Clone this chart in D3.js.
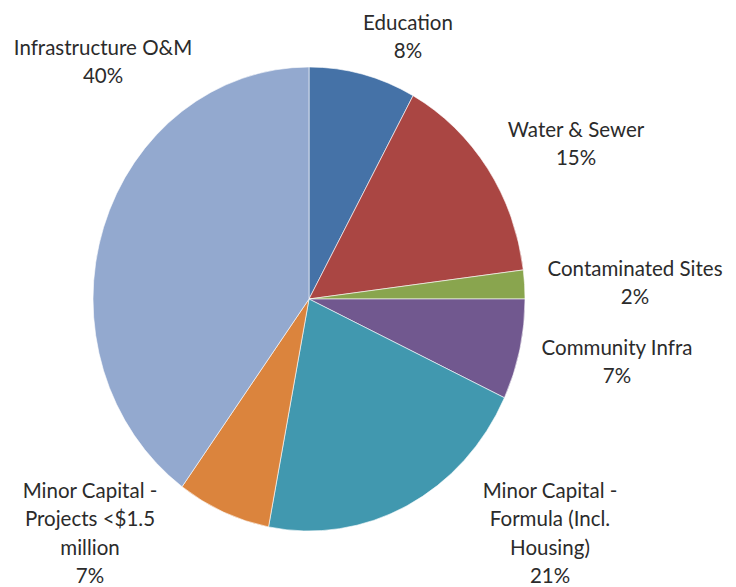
<!DOCTYPE html>
<html>
<head>
<meta charset="utf-8">
<script src="https://cdn.jsdelivr.net/npm/d3@7"></script>
<style>
  html, body { margin: 0; padding: 0; background: #fff; }
  svg text { font-family: "Lato", "Open Sans", sans-serif; fill: #2b2b2b; }
</style>
</head>
<body>
<svg id="chart" width="736" height="587"></svg>
<script>
// Spending shares by program area (percent of total)
const categories = [
  "Education",
  "Water & Sewer",
  "Contaminated Sites",
  "Community Infra",
  "Minor Capital - Formula (Incl. Housing)",
  "Minor Capital - Projects <$1.5 million",
  "Infrastructure O&M"
];
const values = [8, 15, 2, 7, 21, 7, 40];

// Label text, broken into lines as displayed
const labelLines = [
  ["Education"],
  ["Water & Sewer"],
  ["Contaminated Sites"],
  ["Community Infra"],
  ["Minor Capital -", "Formula (Incl.", "Housing)"],
  ["Minor Capital -", "Projects <$1.5", "million"],
  ["Infrastructure O&M"]
];

const colors = ["#4572A7", "#AA4643", "#89A54E", "#71588F", "#4198AF", "#DB843D", "#93A9CF"];

// Label anchor points (centre x, first baseline y)
const labelPos = [
  [408, 30], [576, 137], [635, 276], [617, 355],
  [550, 498], [90, 498], [103, 55]
];

const svg = d3.select("#chart");
const cx = 309, cy = 299, rx = 216, ry = 232;

const slices = d3.pie().sort(null).value(d => d)(values);
const arc = d3.arc().innerRadius(0).outerRadius(rx);

svg.append("g")
  .attr("transform", `translate(${cx},${cy}) scale(1,${ry / rx})`)
  .selectAll("path")
  .data(slices)
  .join("path")
  .attr("d", arc)
  .attr("fill", (d, i) => colors[i])
  .attr("stroke", "#fff")
  .attr("stroke-width", 0.6)
  .attr("vector-effect", "non-scaling-stroke");

const lineH = 28.3;
const labels = svg.append("g").attr("font-size", "20.5px").attr("text-anchor", "middle");
slices.forEach((s, i) => {
  const lines = labelLines[i].concat([d3.format(".0f")(s.data) + "%"]);
  const t = labels.append("text")
    .attr("x", labelPos[i][0])
    .attr("y", labelPos[i][1]);
  lines.forEach((ln, j) => {
    t.append("tspan")
      .attr("x", labelPos[i][0])
      .attr("dy", j === 0 ? 0 : lineH)
      .text(ln);
  });
});
</script>
</body>
</html>
